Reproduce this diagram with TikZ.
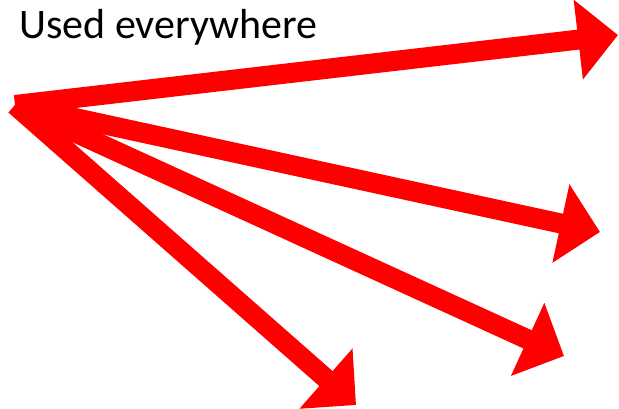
\documentclass[tikz,border=0pt]{standalone}
\usepackage{fontspec}
\setmainfont{Carlito}
\usetikzlibrary{arrows.meta}

\tikzset{bigarrow/.style={draw=red,line width=20pt,
  -{Triangle[length=40pt,width=78pt]}}}

\begin{document}
\begin{tikzpicture}[x=1pt,y=-1pt]
  \useasboundingbox (0,0) rectangle (619,408);
  \node[anchor=base west,inner sep=0pt,font=\fontsize{42}{47}\selectfont] (lbl) at (19,38){Used everywhere};
  \coordinate (src) at (15,105);
  \coordinate (t1) at (618,35);
  \coordinate (t2) at (600,232);
  \coordinate (t3) at (564,356);
  \coordinate (t4) at (356,405);
  \draw[bigarrow](src)--(t1);
  \draw[bigarrow](src)--(t2);
  \draw[bigarrow](src)--(t3);
  \draw[bigarrow](src)--(t4);
\end{tikzpicture}
\end{document}
